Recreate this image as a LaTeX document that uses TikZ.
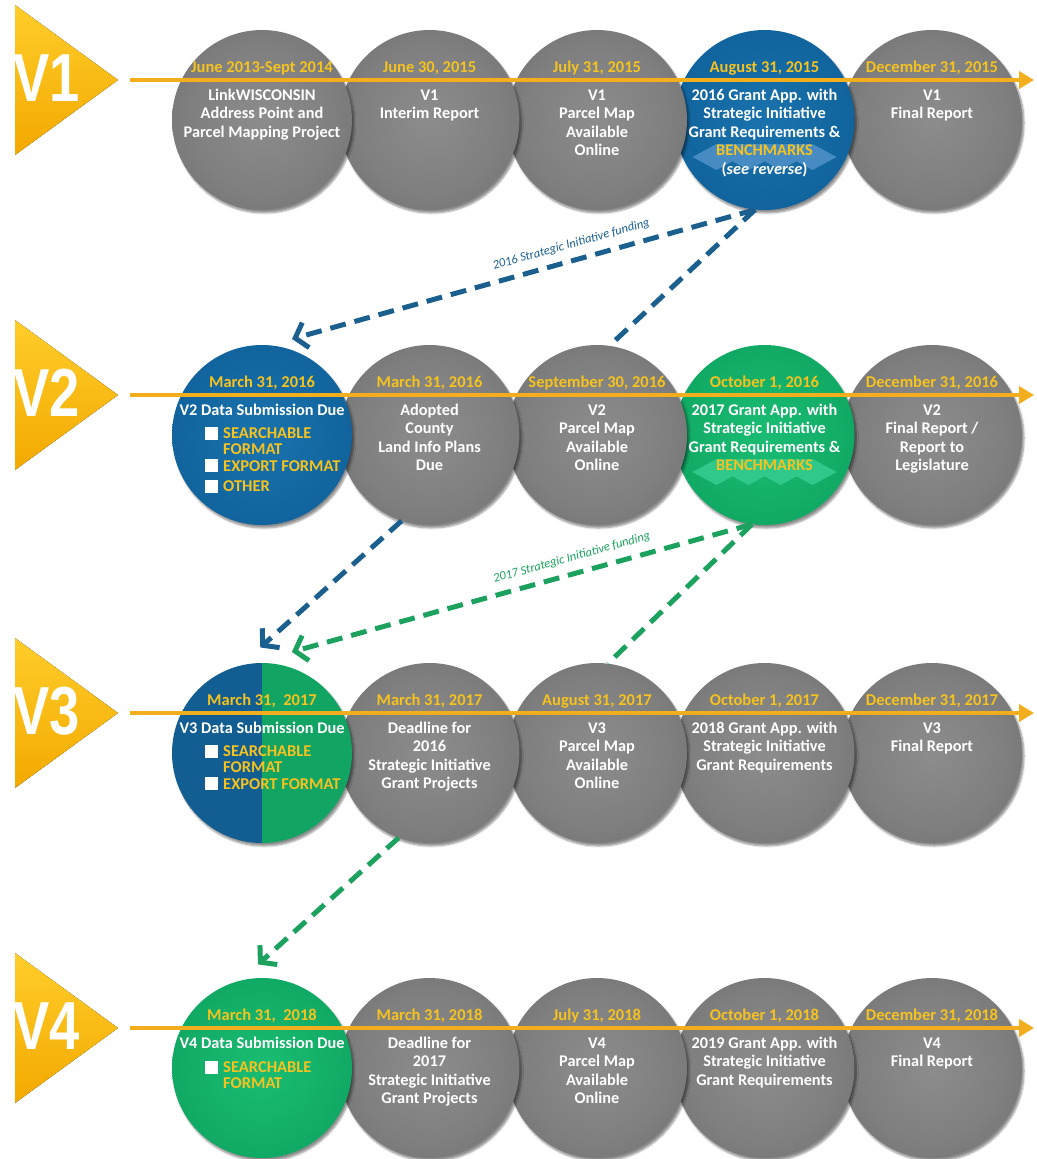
\documentclass[tikz,border=0pt]{standalone}
\usepackage{fontspec}
\setmainfont{Carlito}
\newfontfamily\vfont{Liberation Sans}
\usetikzlibrary{arrows.meta,shadows.blur,shapes.geometric}

\definecolor{dategold}{HTML}{F5C21F}
\definecolor{linegold}{HTML}{F2AE1C}
\definecolor{dblue}{HTML}{1B5F8E}
\definecolor{dgreen}{HTML}{1CA25E}
\definecolor{bandblue}{HTML}{4F92C8}
\definecolor{bandgreen}{HTML}{34CC8E}
\definecolor{triA}{HTML}{FFCD2A}
\definecolor{triB}{HTML}{F3A900}
\definecolor{splitblue}{HTML}{125D91}
\definecolor{splitgreen}{HTML}{11A463}

\pgfdeclareradialshading{grayshade}{\pgfpoint{0bp}{0bp}}{rgb(0bp)=(0.55,0.55,0.55);rgb(20bp)=(0.50,0.50,0.50);rgb(40bp)=(0.42,0.42,0.42);rgb(50bp)=(0.37,0.37,0.37)}
\pgfdeclareradialshading{blueshade}{\pgfpoint{0bp}{0bp}}{rgb(0bp)=(0.10,0.45,0.68);rgb(30bp)=(0.06,0.38,0.60);rgb(50bp)=(0.03,0.32,0.52)}
\pgfdeclareradialshading{greenshade}{\pgfpoint{0bp}{0bp}}{rgb(0bp)=(0.10,0.74,0.45);rgb(30bp)=(0.06,0.65,0.38);rgb(50bp)=(0.03,0.56,0.31)}

\newcommand\bmband[3]{\fill[#3, shift={(#1,#2)}] (-72,0) -- (-48,-13) -- (48,-13) -- (72,0) -- (48,13) -- (32,4.3) -- (16,13) -- (0,4.3) -- (-16,13) -- (-32,4.3) -- (-48,13) -- cycle;}
\newcommand\chkbox[2]{\fill[white] (#1,#2) rectangle ++(13,13);}

\tikzset{
 circ/.style={circle, minimum size=180pt, inner sep=0pt, blur shadow={shadow xshift=2pt, shadow yshift=-3pt, shadow opacity=45, shadow blur steps=6}},
 grayc/.style={circ, shading=grayshade},
 bluec/.style={circ, shading=blueshade},
 greenc/.style={circ, shading=greenshade},
 datetxt/.style={font=\bfseries\fontsize{16.5}{18}\selectfont, text=dategold, anchor=base, inner sep=0pt},
 bodytxt/.style={font=\bfseries\fontsize{16.3}{18.5}\selectfont, text=white, align=center, anchor=north, inner sep=0pt},
 itemtxt/.style={font=\bfseries\fontsize{16.5}{14}\selectfont, text=dategold, align=left, anchor=north west, inner sep=0pt},
 tline/.style={draw=linegold, line width=4pt, -{Triangle[length=15pt,width=17pt]}},
 vtri/.style={top color=triA, bottom color=triB, draw=none},
 vtxt/.style={font=\vfont\bfseries\fontsize{68}{68}\selectfont, text=white, anchor=west, inner sep=0pt},
 bdash/.style={draw=dblue, line width=5pt, dash pattern=on 16pt off 9pt},
 gdash/.style={draw=dgreen, line width=5pt, dash pattern=on 16pt off 9pt},
 barb/.style={-{Straight Barb[length=11pt,width=26pt]}},
 fundlbl/.style={font=\itshape\fontsize{12.5}{14}\selectfont, sloped, above=8pt, inner sep=0pt},
}

\begin{document}
\begin{tikzpicture}[x=1pt,y=-1pt]
\useasboundingbox (0,0) rectangle (1036,1159);

% ================= ROW 1 =================
\node[grayc] (r1c5) at (932,120) {};
\node[bluec] (r1c4) at (764.5,120) {};
\node[grayc] (r1c3) at (597,120) {};
\node[grayc] (r1c2) at (429.5,120) {};
\node[grayc] (r1c1) at (262,120) {};
\fill[vtri] (15,5) -- (118,80) -- (15,155) -- cycle;
\node[vtxt] (v1) at (13,78) {\scalebox{0.8}[1]{V1}};
\coordinate (l1s) at (130,80);
\coordinate (l1e) at (1034,80);
\draw[tline] (l1s) -- (l1e);
\bmband{764.5}{157}{bandblue, opacity=0.85}
\node[datetxt] (d11) at (262,72) {June 2013-Sept 2014};
\node[bodytxt] (b11) at (262,87) {\strut LinkWISCONSIN\\Address Point and\\Parcel Mapping Project};
\node[datetxt] (d12) at (429.5,72) {June 30, 2015};
\node[bodytxt] (b12) at (429.5,87) {\strut V1\\Interim Report};
\node[datetxt] (d13) at (597,72) {July 31, 2015};
\node[bodytxt] (b13) at (597,87) {\strut V1\\Parcel Map\\Available\\Online};
\node[datetxt] (d14) at (764.5,72) {August 31, 2015};
\node[bodytxt] (b14) at (764.5,87) {\strut 2016 Grant App. with\\Strategic Initiative\\Grant Requirements \&\\\textcolor{dategold}{BENCHMARKS}\\(\textit{see reverse})};
\node[datetxt] (d15) at (932,72) {December 31, 2015};
\node[bodytxt] (b15) at (932,87) {\strut V1\\Final Report};

% ================= ROW 2 =================
\node[grayc] (r2c5) at (932,435) {};
\node[greenc] (r2c4) at (764.5,435) {};
\node[grayc] (r2c3) at (597,435) {};
\node[grayc] (r2c2) at (429.5,435) {};
\node[bluec] (r2c1) at (262,435) {};
\fill[vtri] (15,320) -- (118,395) -- (15,470) -- cycle;
\node[vtxt] (v2) at (13,393) {\scalebox{0.8}[1]{V2}};
\coordinate (l2s) at (130,395);
\coordinate (l2e) at (1034,395);
\draw[tline] (l2s) -- (l2e);
\bmband{764.5}{472}{bandgreen, opacity=0.9}
\node[datetxt] (d21) at (262,387) {March 31, 2016};
\node[bodytxt] (b21) at (262,402) {\strut V2 Data Submission Due};
\chkbox{205}{427}
\chkbox{205}{459}
\chkbox{205}{480}
\node[itemtxt] (i21) at (223,427.2) {\strut SEARCHABLE\\FORMAT};
\node[itemtxt] (i22) at (223,460.2) {\strut EXPORT FORMAT};
\node[itemtxt] (i23) at (223,480.2) {\strut OTHER};
\node[datetxt] (d22) at (429.5,387) {March 31, 2016};
\node[bodytxt] (b22) at (429.5,402) {\strut Adopted\\County\\Land Info Plans\\Due};
\node[datetxt] (d23) at (597,387) {September 30, 2016};
\node[bodytxt] (b23) at (597,402) {\strut V2\\Parcel Map\\Available\\Online};
\node[datetxt] (d24) at (764.5,387) {October 1, 2016};
\node[bodytxt] (b24) at (764.5,402) {\strut 2017 Grant App. with\\Strategic Initiative\\Grant Requirements \&\\\textcolor{dategold}{BENCHMARKS}};
\node[datetxt] (d25) at (932,387) {December 31, 2016};
\node[bodytxt] (b25) at (932,402) {\strut V2\\Final Report /\\Report to\\Legislature};

% ================= ROW 3 =================
\node[grayc] (r3c5) at (932,753) {};
\node[grayc] (r3c4) at (764.5,753) {};
\node[grayc] (r3c3) at (597,753) {};
\node[grayc] (r3c2) at (429.5,753) {};
\node[circ, path picture={\fill[splitblue] (path picture bounding box.south west) rectangle (path picture bounding box.north); \fill[splitgreen] (path picture bounding box.north) rectangle (path picture bounding box.south east);}] (r3c1) at (262,753) {};
\fill[vtri] (15,638) -- (118,713) -- (15,788) -- cycle;
\node[vtxt] (v3) at (13,711) {\scalebox{0.8}[1]{V3}};
\coordinate (l3s) at (130,713);
\coordinate (l3e) at (1034,713);
\draw[tline] (l3s) -- (l3e);
\node[datetxt] (d31) at (262,705) {March 31,~ 2017};
\node[bodytxt] (b31) at (262,720) {\strut V3 Data Submission Due};
\chkbox{205}{745}
\chkbox{205}{777}
\node[itemtxt] (i31) at (223,745.2) {\strut SEARCHABLE\\FORMAT};
\node[itemtxt] (i32) at (223,778.2) {\strut EXPORT FORMAT};
\node[datetxt] (d32) at (429.5,705) {March 31, 2017};
\node[bodytxt] (b32) at (429.5,720) {\strut Deadline for\\2016\\Strategic Initiative\\Grant Projects};
\node[datetxt] (d33) at (597,705) {August 31, 2017};
\node[bodytxt] (b33) at (597,720) {\strut V3\\Parcel Map\\Available\\Online};
\node[datetxt] (d34) at (764.5,705) {October 1, 2017};
\node[bodytxt] (b34) at (764.5,720) {\strut 2018 Grant App. with\\Strategic Initiative\\Grant Requirements};
\node[datetxt] (d35) at (932,705) {December 31, 2017};
\node[bodytxt] (b35) at (932,720) {\strut V3\\Final Report};

% ================= ROW 4 =================
\node[grayc] (r4c5) at (932,1068) {};
\node[grayc] (r4c4) at (764.5,1068) {};
\node[grayc] (r4c3) at (597,1068) {};
\node[grayc] (r4c2) at (429.5,1068) {};
\node[greenc] (r4c1) at (262,1068) {};
\fill[vtri] (15,953) -- (118,1028) -- (15,1103) -- cycle;
\node[vtxt] (v4) at (13,1026) {\scalebox{0.8}[1]{V4}};
\coordinate (l4s) at (130,1028);
\coordinate (l4e) at (1034,1028);
\draw[tline] (l4s) -- (l4e);
\node[datetxt] (d41) at (262,1020) {March 31,~ 2018};
\node[bodytxt] (b41) at (262,1035) {\strut V4 Data Submission Due};
\chkbox{205}{1061}
\node[itemtxt] (i41) at (223,1061.2) {\strut SEARCHABLE\\FORMAT};
\node[datetxt] (d42) at (429.5,1020) {March 31, 2018};
\node[bodytxt] (b42) at (429.5,1035) {\strut Deadline for\\2017\\Strategic Initiative\\Grant Projects};
\node[datetxt] (d43) at (597,1020) {July 31, 2018};
\node[bodytxt] (b43) at (597,1035) {\strut V4\\Parcel Map\\Available\\Online};
\node[datetxt] (d44) at (764.5,1020) {October 1, 2018};
\node[bodytxt] (b44) at (764.5,1035) {\strut 2019 Grant App. with\\Strategic Initiative\\Grant Requirements};
\node[datetxt] (d45) at (932,1020) {December 31, 2018};
\node[bodytxt] (b45) at (932,1035) {\strut V4\\Final Report};

% ================= CONNECTORS =================
\draw[bdash, barb, shorten >=23pt] (r1c4.264) -- node[fundlbl, text=dblue, pos=0.37] (f1) {2016 Strategic Initiative funding} (r2c1.85);
\draw[bdash] (r1c4.264) -- (r2c3.82);
\draw[bdash, barb, shorten >=27pt] (r2c2.252) -- (r3c1.104);
\draw[gdash, barb, shorten >=44pt] (r2c4.262) -- node[fundlbl, text=dgreen, pos=0.35] (f2) {2017 Strategic Initiative funding} (r3c1.98);
\draw[gdash] (r2c4.262) -- (r3c3.83);
\draw[gdash, barb, shorten >=24pt] (r3c2.250) -- (r4c1.104);
\end{tikzpicture}
\end{document}
